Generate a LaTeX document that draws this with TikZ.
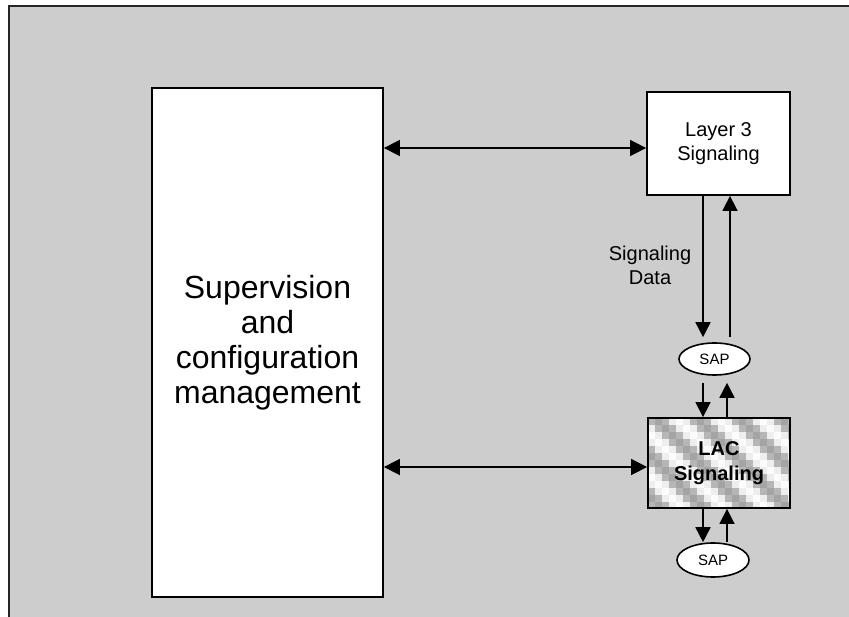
\documentclass[tikz,border=0pt]{standalone}
\usepackage{fontspec}
\setmainfont{Liberation Sans}
\usetikzlibrary{arrows.meta,shapes.geometric,calc}
\definecolor{bggray}{RGB}{205,205,205}
\definecolor{patA}{RGB}{182,182,182}
\definecolor{patB}{RGB}{164,164,164}
\definecolor{patW}{RGB}{238,238,238}
\definecolor{patV}{RGB}{252,252,252}
\tikzset{
  box/.style={draw=black,line width=1.8pt,fill=white,inner sep=0pt,align=center},
  sap/.style={ellipse,draw=black,line width=1.6pt,fill=white,inner sep=0pt,font={\fontsize{15}{18}\selectfont}},
  conn/.style={line width=1.6pt,-{Triangle[length=15pt,width=15pt]}},
  biconn/.style={line width=1.6pt,{Triangle[length=16pt,width=16pt]}-{Triangle[length=16pt,width=16pt]}},
  lbl/.style={inner sep=0pt,align=center,font={\fontsize{20}{24}\selectfont}},
  lacfill/.style={path picture={
    \foreach \i in {0,...,21}{\foreach \j in {0,...,13}{
      \pgfmathtruncatemacro\mm{mod(\i-\j+60,6)}
      \ifcase\mm \def\cc{patA}\or\def\cc{patB}\or\def\cc{patA}\or\def\cc{patW}\or\def\cc{patV}\else\def\cc{patW}\fi
      \fill[\cc] ($(path picture bounding box.north west)+(\i*7,\j*7)$) rectangle ++(7,7);
    }}}}
}
\begin{document}
\begin{tikzpicture}[x=1pt,y=-1pt]
\useasboundingbox (0,0) rectangle (849,617);
\fill[white] (0,0) rectangle (849,617);
\fill[bggray] (9,6) rectangle (849,617);
\draw[line width=2pt,black!85] (9,617) -- (9,6) -- (849,6);

\node[box,minimum width=231pt,minimum height=509pt,font={\fontsize{32}{35}\selectfont}] (big) at (267.5,342.5)
  {Supervision\\and\\configuration\\management};
\node[box,minimum width=143pt,minimum height=103pt,font={\fontsize{20}{24}\selectfont}] (L3) at (718.5,143.5)
  {Layer 3\\Signaling};
\node[box,lacfill,minimum width=142pt,minimum height=90pt,font={\bfseries\fontsize{20}{25}\selectfont}] (LAC) at (719,463)
  {LAC\\Signaling};
\node[sap,minimum width=71pt,minimum height=32pt] (SAP1) at (714.5,359) {SAP};
\node[sap,minimum width=72pt,minimum height=34pt] (SAP2) at (713,560) {SAP};
\node[lbl] (sigdata) at (650,265) {Signaling\\Data};

\coordinate (xa) at (703,0);
\coordinate (xb) at (730,0);
\coordinate (xc) at (727,0);
\coordinate (ya) at ([yshift=-4.5pt]L3.west);
\coordinate (yb) at ([yshift=-4pt]LAC.west);

\draw[biconn] (big.east |- ya) -- (ya);
\draw[biconn] (big.east |- yb) -- (yb);

\draw[conn,shorten >=5pt] (L3.south -| xa) -- (SAP1.north -| xa);
\draw[conn,shorten <=5pt] (SAP1.north -| xb) -- (L3.south -| xb);
\draw[conn,shorten <=7pt] (SAP1.south -| xa) -- (LAC.north -| xa);
\draw[conn,shorten >=7pt] (LAC.north -| xc) -- (SAP1.south -| xc);
\draw[conn] (LAC.south -| xa) -- (SAP2.north -| xa);
\draw[conn] (SAP2.north -| xc) -- (LAC.south -| xc);
\end{tikzpicture}
\end{document}
